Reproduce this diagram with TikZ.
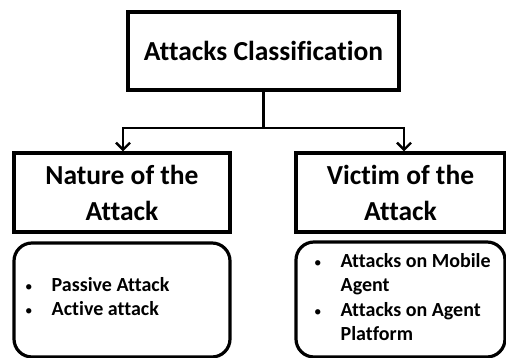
\documentclass[tikz,border=0pt]{standalone}
\usepackage{fontspec}
\setmainfont[Ligatures=NoCommon]{Carlito}
\usetikzlibrary{arrows.meta}
\newcommand{\listdot}{\textmd{\fontsize{15}{15}\selectfont\textbullet}}
\begin{document}
\begin{tikzpicture}[x=1pt,y=1pt,
  box/.style={draw=black, line width=3.2pt, rectangle, inner sep=0pt,
              font=\bfseries\fontsize{27.5}{36}\selectfont, align=center},
  listbox/.style={draw=black, line width=3.2pt, rectangle, rounded corners=18pt, inner sep=0pt},
  listtext/.style={anchor=west, inner sep=0pt, align=left,
                   font=\bfseries\fontsize{20}{24.5}\selectfont},
  link/.style={line width=2.8pt},
  arrowlink/.style={link, -{Straight Barb[length=7pt,width=14pt,line width=2.4pt]}}]
  \useasboundingbox (0,0) rectangle (506,358);

  % category boxes
  \node[box, minimum width=271pt, minimum height=78pt] (root) at (263.5,307) {Attacks Classification};
  \node[box, minimum width=216pt, minimum height=79pt] (nature) at (122,165.5) {Nature of the\\Attack};
  \node[box, minimum width=209pt, minimum height=79pt] (victim) at (400.5,165.5) {Victim of the\\Attack};

  % rounded boxes with the lists
  \node[listbox, minimum width=216pt, minimum height=114pt] (natlist) at (122,58) {};
  \node[listbox, minimum width=209pt, minimum height=115pt] (viclist) at (400.5,58.5) {};

  \node[listtext] (nattext) at (25,59.5) {%
    \begin{tabular}{@{}l@{\hspace{19pt}}l@{}}
      \listdot & Passive Attack\\
      \listdot & Active attack
    \end{tabular}};
  \node[listtext] (victext) at (314,59) {%
    \begin{tabular}{@{}l@{\hspace{19pt}}l@{}}
      \listdot & Attacks on Mobile\\
               & Agent\\
      \listdot & Attacks on Agent\\
               & Platform
    \end{tabular}};

  % connectors
  \coordinate (split) at (root.south |- 0,230);
  \coordinate (nattop) at ([xshift=1pt]nature.north);
  \coordinate (victop) at ([xshift=3.5pt]victim.north);
  \draw[link] (root.south) -- (split);
  \draw[arrowlink] (split) -| (nattop);
  \draw[arrowlink] (split) -| (victop);
\end{tikzpicture}
\end{document}
